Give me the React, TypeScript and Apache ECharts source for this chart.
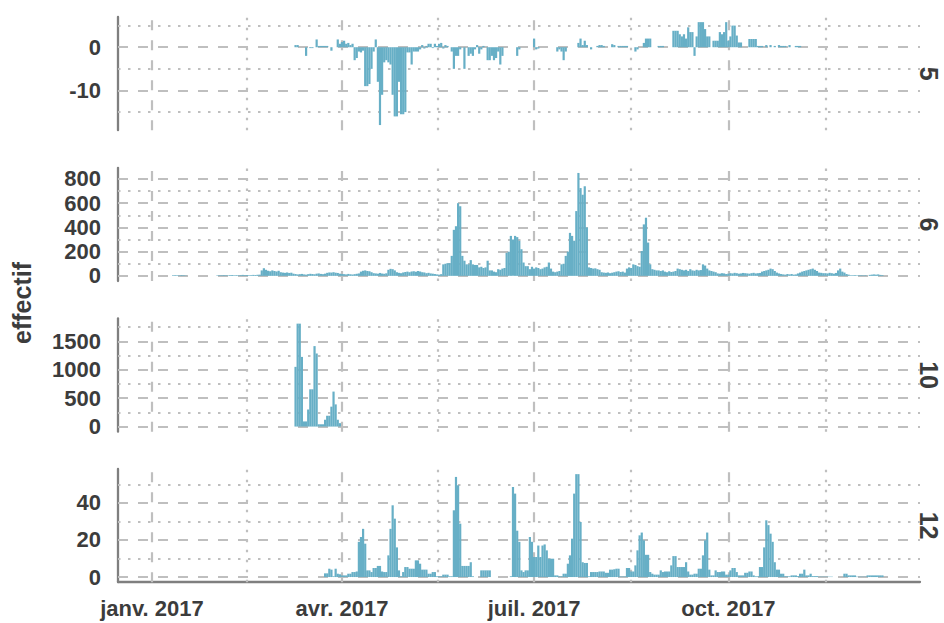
import React, { useEffect, useRef } from 'react';
import * as echarts from 'echarts';

// ---------- data (daily counts) ----------
const DAY = 86400000;

const facetNames = ['5', '6', '10', '12'];

// first day of each facet's daily series
const start5 = '2017-03-10';
const start6 = '2017-01-11';
const start10 = '2017-03-10';
const start12 = '2017-03-24';

const facet5 = [
  0.5, 0.5, 0, 0, 0, -2, 0, -0.2, -0.2, 0,
  1.8, 0.3, 0.3, 0.3, 0.3, 0.3, 0, -0.8, 0, 0,
  1.8, 0.8, 1.2, 1.5, 0.8, 1, 0.5, 0.8, -3, -2.5,
  -1, -1.2, -0.8, -9, -9, -8.5, -5, -1, 1.8, -8,
  -18, -11, -3.5, -3, -3.5, -4, -11, -16, -16, -8,
  -15.5, -15.5, -15, -1.2, -1.2, -4, -1, -1, -1, -0.5,
  0.5, -0.3, 0.3, 0.8, 0.8, -0.2, 0.8, 0.3, 0.8, 1,
  -0.3, 0.5, 0.3, 0, -1, -5, -2, -2, -0.5, 0,
  -5, 0, -2, -1.5, -2, -0.5, 0.5, -1.5, -0.5, 0.3,
  0, -3, -3, -2, -3, -2.5, -1, -4, -2, 0,
  0, 0, 0, 0, 0, -2, -0.5, 0, 0, 0,
  0, 0, 0, 2, -0.5, -0.3, 0, 0, 0, 0,
  0, 0, 0, 0, -1, -0.5, -1, -3, -1, 0,
  0, 0, 0, 0, 1, 2, 0.5, 1.5, 0.5, 0,
  -0.5, 0, 0, 0.3, 0.5, 0.5, 0.3, 0, 0, 0,
  0.7, 0.5, 0, 0.3, 0.3, 0.3, 0.3, 0.3, 0, 0,
  0, -1, -0.5, 0, 0, 1, 2, 2, 2, 0,
  0, 0, 0.3, 0.3, 0.3, 0, 0, 0, 0, 3.8,
  3.8, 3.8, 3, 2.5, 3, 2, 4.6, 3.5, 3.5, -2,
  2.5, 5.8, 5.8, 5.8, 4.2, 2.5, 2.5, 0, 1.5, 1.5,
  1.5, 3.5, 3, 3.5, 5.8, 1.5, 2.5, 5, 5, 2.7,
  1.1, 1.1, 0, 0, 0, 1.9, 1.9, 1.9, 1.9, 0.3,
  0.3, 0.3, 0, 0.5, 0, 0.5, 0, 0.3, 0, 0.5,
  0.3, 0.3, 0.3, 0, 0.5, 0, 0, 0.3, 0.3, 0.3, 0,
];

const facet6 = [
  5, 6, 5, 4, 6, 5, 3, 0, 0, 0,
  0, 0, 0, 0, 0, 0, 0, 0, 0, 0,
  0, 4, 5, 5, 6, 5, 4, 6, 7, 5,
  6, 5, 6, 8, 6, 7, 5, 6, 8, 7,
  9, 10, 45, 63, 50, 42, 38, 45, 40, 36,
  42, 30, 27, 25, 28, 24, 26, 18, 15, 12,
  14, 16, 12, 10, 14, 17, 15, 13, 18, 20,
  16, 14, 18, 25, 28, 27, 30, 26, 24, 18,
  15, 14, 12, 16, 13, 11, 14, 17, 20, 35,
  42, 45, 40, 38, 30, 22, 20, 18, 24, 19,
  17, 21, 50, 58, 55, 45, 30, 25, 22, 28,
  32, 35, 30, 36, 38, 34, 40, 36, 30, 28,
  22, 25, 20, 18, 15, 12, 10, 14, 95, 100,
  105, 105, 165, 380, 410, 600, 575, 165, 125, 95,
  95, 130, 95, 90, 90, 70, 75, 65, 70, 125,
  45, 45, 35, 30, 55, 50, 60, 65, 190, 200,
  330, 300, 330, 320, 290, 220, 110, 80, 80, 55,
  75, 60, 70, 65, 55, 60, 70, 75, 110, 60,
  35, 30, 35, 40, 95, 100, 165, 200, 355, 330,
  290, 535, 850, 725, 670, 740, 400, 70, 65, 60,
  62, 55, 50, 30, 27, 25, 28, 22, 26, 30,
  35, 38, 32, 35, 27, 60, 70, 65, 95, 90,
  80, 75, 205, 425, 480, 275, 95, 55, 50, 45,
  45, 40, 45, 35, 30, 38, 32, 35, 40, 60,
  55, 50, 45, 50, 40, 55, 45, 42, 50, 45,
  48, 95, 85, 60, 45, 40, 35, 30, 20, 18,
  22, 20, 15, 18, 22, 20, 25, 22, 18, 20,
  24, 22, 20, 18, 22, 25, 20, 22, 24, 35,
  40, 45, 50, 60, 55, 40, 27, 20, 15, 12,
  10, 15, 12, 15, 10, 12, 20, 27, 35, 40,
  45, 50, 55, 60, 50, 40, 27, 25, 22, 22,
  20, 25, 22, 18, 24, 45, 60, 35, 27, 15,
  10, 5, 5, 6, 4, 5, 5, 4, 5, 0,
  8, 10, 12, 10, 12, 8, 6,
];

const facet10 = [
  1050, 1810, 1810, 1225, 90, 90, 300, 655, 655, 1415,
  1285, 40, 40, 40, 120, 190, 190, 350, 615, 390,
  120, 60,
];

const facet12 = [
  2, 2, 4.5, 4, 0.4, 4.5, 1.8, 1.5, 0.9, 0.9,
  0.9, 1.8, 1.8, 2.7, 2.7, 3, 19, 21.6, 26, 18,
  3.6, 3.6, 2.7, 4.9, 4.9, 6, 6, 3, 2.7, 2.7,
  11.7, 26, 38.7, 31.5, 16, 3.6, 0.4, 2.7, 5.4, 5.4,
  4.5, 4.5, 4.5, 9, 9, 7.2, 4, 4, 4, 1.8,
  1.8, 2.7, 2.7, 0.4, 0.4, 0.4, 1.3, 1.3, 1.3, 0.4,
  0.4, 36, 54, 49.5, 28.8, 6, 6, 6, 6, 8,
  0.4, 0, 0, 0, 3.6, 3.6, 3.6, 3.6, 3.6, 0,
  0, 0, 0, 0, 0, 0, 0, 0, 0.4, 48.6,
  45, 25, 19, 3.6, 2.7, 3.6, 3.6, 21.6, 19, 10.8,
  10.8, 17, 10.8, 17, 17.6, 14.4, 9.9, 9.9, 9.9, 0.9,
  0.9, 0.4, 0.4, 1.8, 1.8, 7.2, 11.7, 20.7, 45, 55.5,
  55.5, 29.7, 8, 7.6, 7.6, 0.4, 2.7, 2.7, 2.7, 2.7,
  3, 3, 3, 2.3, 2.3, 4, 4, 4.2, 4.5, 4.5,
  0.3, 0.3, 0.3, 4.9, 4.9, 3, 3, 6.3, 14.4, 22.5,
  24, 19.8, 12, 12, 2.7, 1.8, 1.3, 1.3, 1.3, 3.6,
  2.7, 3, 3, 3, 6.3, 11.3, 11.3, 5.4, 5.4, 5.4,
  5.4, 8, 3, 1.3, 1.3, 1.8, 1.8, 4.5, 4.5, 11.7,
  19.8, 24, 4, 0.9, 0.9, 3.6, 2.7, 2.7, 3, 3,
  1.3, 1.3, 3.6, 4.9, 4.9, 2.7, 0.9, 0.9, 0.9, 2.3,
  2.3, 3, 3, 0.9, 0.4, 0.4, 5.4, 5.4, 16, 30.6,
  28, 23.4, 19, 8, 4, 4, 1.8, 1.8, 0.4, 0.4,
  0.4, 0.9, 0.9, 0.9, 0.5, 1.8, 1.8, 4, 0.9, 0.9,
  1.8, 0.5, 0.5, 0.5, 0.2, 0.2, 0.2, 0.2, 0.2, 0.2,
  0.2, 0, 0, 0, 0, 0, 1.8, 1.8, 0.9, 0.9,
  0.9, 0.9, 0.2, 0.2, 0.2, 0.2, 0.2, 0.9, 0.9, 0.9,
  0.9, 0.9, 0.9, 0.9, 0.9,
];

// x axis
const xMinDate = '2016-12-15T21:36:00Z';
const xMaxDate = '2017-12-30T19:12:00Z';
const xBreaks = ['2017-01-01T00:00:00Z', '2017-04-01T00:00:00Z', '2017-07-01T00:00:00Z', '2017-10-01T00:00:00Z'];
const xBreakLabels = ['janv. 2017', 'avr. 2017', 'juil. 2017', 'oct. 2017'];
const xMinorBreaks = ['2017-02-15T00:00:00Z', '2017-05-16T12:00:00Z', '2017-08-16T00:00:00Z', '2017-11-16T00:00:00Z'];

// y axes
const yBreaks5 = [-10, 0];
const yMinor5 = [-15, -5, 5];
const yBreaks6 = [0, 200, 400, 600, 800];
const yMinor6 = [100, 300, 500, 700];
const yBreaks10 = [0, 500, 1000, 1500];
const yMinor10 = [250, 750, 1250, 1750];
const yBreaks12 = [0, 20, 40];
const yMinor12 = [10, 30, 50];

// ---------- styling ----------
const FONT = '"Liberation Sans", Arial, Helvetica, sans-serif';
const TEXT = '#3c3c3c';
const BAR = '#67afc6';
const GRID_C = '#bfbfbf';
const AXIS_C = '#7f7f7f';
const TOPS = [17, 167.8, 318.5, 469];
const PANEL_H = 113.2;

const ts = (s: string) => new Date(s.length <= 10 ? s + 'T00:00:00Z' : s).getTime();

export default function App() {
  const ref = useRef<HTMLDivElement>(null);

  useEffect(() => {
    if (!ref.current) return;
    const chart = echarts.init(ref.current, undefined, { renderer: 'svg' });

    const facets = [
      { start: start5, values: facet5, breaks: yBreaks5, minor: yMinor5 },
      { start: start6, values: facet6, breaks: yBreaks6, minor: yMinor6 },
      { start: start10, values: facet10, breaks: yBreaks10, minor: yMinor10 },
      { start: start12, values: facet12, breaks: yBreaks12, minor: yMinor12 },
    ];

    const xMin = ts(xMinDate);
    const xMax = ts(xMaxDate);
    const xBreakTs = xBreaks.map(ts);
    const xMinorTs = xMinorBreaks.map(ts);

    const dashed = { type: [10, 10] as number[], color: GRID_C, width: 2.2 };
    const dotted = { type: [2.5, 7.5] as number[], color: GRID_C, width: 2.2 };

    const grid: any[] = [];
    const xAxis: any[] = [];
    const yAxis: any[] = [];
    const series: any[] = [];

    facets.forEach((f, i) => {
      const s0 = ts(f.start);
      const data = f.values.map((v, k) => [s0 + k * DAY, v]);
      const lo = Math.min(0, ...f.values);
      const hi = Math.max(0, ...f.values);
      const pad = (hi - lo) * 0.05;
      const isLast = i === facets.length - 1;

      grid.push({ left: 118, right: 24, top: TOPS[i], height: PANEL_H, containLabel: false, outerBoundsMode: 'none' });

      xAxis.push({
        type: 'value',
        gridIndex: i,
        min: xMin,
        max: xMax,
        scale: true,
        axisLine: { show: isLast, onZero: false, lineStyle: { color: AXIS_C, width: 2.3 } },
        axisTick: { show: false },
        splitLine: { show: false },
        axisLabel: isLast
          ? {
              show: true,
              customValues: xBreakTs,
              formatter: (v: number) => {
                const k = xBreakTs.findIndex((t) => Math.abs(t - v) < DAY);
                return k >= 0 ? xBreakLabels[k] : '';
              },
              color: TEXT,
              fontSize: 22,
              fontWeight: 'bold',
              fontFamily: FONT,
              margin: 15,
              hideOverlap: false,
            }
          : { show: false },
      });

      yAxis.push({
        type: 'value',
        gridIndex: i,
        min: lo - pad,
        max: hi + pad,
        axisLine: { show: true, onZero: false, lineStyle: { color: AXIS_C, width: 2.3 } },
        axisTick: { show: false },
        splitLine: { show: false },
        axisLabel: {
          customValues: f.breaks,
          formatter: (v: number) => String(v),
          color: TEXT,
          fontSize: 22,
          fontWeight: 'bold',
          fontFamily: FONT,
          margin: 17,
        },
      });

      const lines: any[] = [
        ...f.breaks.map((v) => ({ yAxis: v, lineStyle: dashed })),
        ...f.minor.map((v) => ({ yAxis: v, lineStyle: dotted })),
        ...xBreakTs.map((t) => ({ xAxis: t, lineStyle: dashed })),
        ...xMinorTs.map((t) => ({ xAxis: t, lineStyle: dotted })),
      ];

      series.push({
        type: 'bar',
        name: facetNames[i],
        xAxisIndex: i,
        yAxisIndex: i,
        data,
        barWidth: 2.2,
        itemStyle: { color: BAR },
        z: 2,
        silent: true,
        markLine: {
          silent: true,
          z: 1,
          symbol: ['none', 'none'],
          label: { show: false },
          emphasis: { disabled: true },
          data: lines,
        },
      });
    });

    const graphic: any[] = [
      ...facetNames.map((n, i) => ({
        type: 'text',
        x: 929,
        y: TOPS[i] + PANEL_H / 2,
        rotation: -Math.PI / 2,
        style: {
          text: n,
          fontSize: 25,
          fontWeight: 'bold',
          fontFamily: FONT,
          fill: TEXT,
          align: 'center',
          verticalAlign: 'middle',
        },
      })),
      {
        type: 'text',
        x: 22,
        y: 303,
        rotation: Math.PI / 2,
        style: {
          text: 'effectif',
          fontSize: 25,
          fontWeight: 'bold',
          fontFamily: FONT,
          fill: TEXT,
          align: 'center',
          verticalAlign: 'middle',
        },
      },
    ];

    chart.setOption({
      animation: false,
      backgroundColor: '#ffffff',
      grid,
      xAxis,
      yAxis,
      series,
      graphic,
    });

    return () => chart.dispose();
  }, []);

  return (
    <div
      ref={ref}
      style={{ position: 'fixed', left: 0, top: 0, width: 944, height: 623, background: '#fff' }}
    />
  );
}
